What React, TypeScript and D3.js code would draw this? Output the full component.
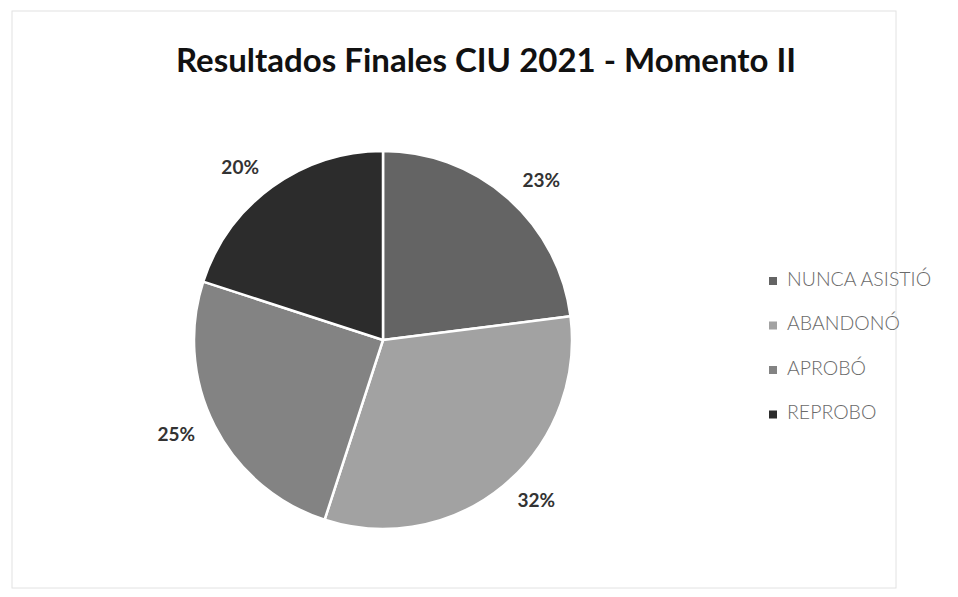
import React, { useRef, useEffect } from 'react';
import * as d3 from 'd3';

const categories = ['NUNCA ASISTIÓ', 'ABANDONÓ', 'APROBÓ', 'REPROBO'];
const values = [23, 32, 25, 20];
const colors = ['#646464', '#a2a2a2', '#838383', '#2c2c2c'];
const title = 'Resultados Finales CIU 2021 - Momento II';

function PieChart({ width = 958, height = 597 }) {
  const svgRef = useRef<SVGSVGElement>(null);

  useEffect(() => {
    const svg = d3.select(svgRef.current);
    svg.selectAll('*').remove();

    const cx = 383;
    const cy = 340;
    const radius = 189;
    const font = 'Lato, "Open Sans", sans-serif';

    svg.attr('viewBox', `0 0 ${width} ${height}`);

    // Background and frame
    svg.append('rect')
      .attr('width', width)
      .attr('height', height)
      .attr('fill', '#fff');
    svg.append('rect')
      .attr('x', 12)
      .attr('y', 11)
      .attr('width', 884)
      .attr('height', 577)
      .attr('fill', 'none')
      .attr('stroke', '#e2e2e2')
      .attr('stroke-width', 1);

    // Title
    svg.append('text')
      .attr('x', 486)
      .attr('y', 72)
      .attr('text-anchor', 'middle')
      .attr('font-family', font)
      .attr('font-weight', 700)
      .attr('font-size', 33)
      .attr('fill', '#111')
      .text(title);

    const data = categories.map((c, i) => ({ name: c, value: values[i], color: colors[i] }));

    const pie = d3.pie<any>()
      .sort(null)
      .value(d => d.value);

    const arc = d3.arc<any>()
      .innerRadius(0)
      .outerRadius(radius);

    const labelRadius = radius + 22;

    const g = svg.append('g')
      .attr('transform', `translate(${cx},${cy})`);

    const arcs = pie(data);

    g.selectAll('path')
      .data(arcs)
      .enter()
      .append('path')
      .attr('d', arc)
      .attr('fill', d => d.data.color)
      .attr('stroke', '#fff')
      .attr('stroke-width', 2.5)
      .attr('stroke-linejoin', 'round');

    // Percent labels outside the slices
    g.selectAll('text.pct')
      .data(arcs)
      .enter()
      .append('text')
      .attr('class', 'pct')
      .each(function (d) {
        const mid = (d.startAngle + d.endAngle) / 2;
        const x = labelRadius * Math.sin(mid);
        const y = -labelRadius * Math.cos(mid);
        d3.select(this)
          .attr('x', x)
          .attr('y', y)
          .attr('text-anchor', x >= 0 ? 'start' : 'end')
          .attr('dominant-baseline', 'middle');
      })
      .attr('font-family', font)
      .attr('font-weight', 700)
      .attr('font-size', 19)
      .attr('fill', '#333')
      .text(d => `${d.data.value}%`);

    // Legend
    const legend = svg.append('g')
      .attr('transform', 'translate(773, 281)');

    const item = legend.selectAll('g')
      .data(data)
      .enter()
      .append('g')
      .attr('transform', (d, i) => `translate(0, ${i * 44.5})`);

    item.append('rect')
      .attr('x', -4)
      .attr('y', -4)
      .attr('width', 8)
      .attr('height', 8)
      .attr('fill', d => d.color);

    item.append('text')
      .attr('x', 14)
      .attr('y', 0)
      .attr('dominant-baseline', 'middle')
      .attr('font-family', font)
      .attr('font-weight', 300)
      .attr('font-size', 19.5)
      .attr('fill', '#6a6a6a')
      .text(d => d.name);
  }, [width, height]);

  return (
    <svg
      ref={svgRef}
      width={width}
      height={height}
      style={{ position: 'absolute', left: 0, top: 0, display: 'block' }}
    />
  );
}

export default function App() {
  return <PieChart />;
}
